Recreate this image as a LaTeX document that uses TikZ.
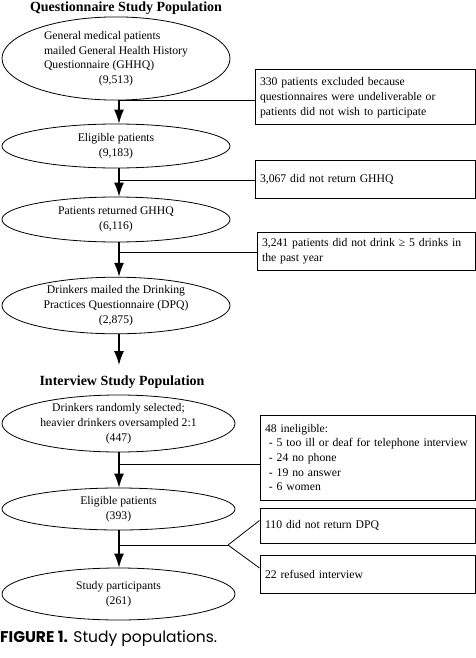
\documentclass[tikz,border=0pt]{standalone}
\usepackage{fontspec}
\setmainfont{Liberation Serif}
\newfontfamily\capfont{Poppins}
\usetikzlibrary{shapes.geometric,arrows.meta}
\begin{document}
\begin{tikzpicture}[x=1pt,y=-1pt,
  every node/.style={font=\fontsize{11.7}{14.7}\selectfont},
  ell/.style={draw,ellipse,line width=0.8pt,inner sep=0pt,align=center},
  boxn/.style={draw,rectangle,line width=1pt,inner xsep=5pt,inner ysep=0pt,align=left},
  head/.style={font=\fontsize{14}{16}\selectfont\bfseries},
  flow/.style={line width=1.4pt,-{Latex[length=14pt,width=10pt]}},
  link/.style={line width=0.8pt}]
\useasboundingbox (0,0) rectangle (476,658);
\node[head] (t1) at (126,8) {Questionnaire Study Population};
\node[ell,minimum width=228pt,minimum height=73pt] (e1) at (116,58.5)
  {\begin{tabular}{@{}l@{}}General medical patients\\mailed General Health History\\Questionnaire (GHHQ)\\\multicolumn{1}{@{}c@{}}{(9,513)}\end{tabular}};
\node[ell,minimum width=228pt,minimum height=44pt] (e2) at (116,146) {Eligible patients\\(9,183)};
\node[ell,minimum width=228pt,minimum height=45pt] (e3) at (116,219.5) {Patients returned GHHQ\\(6,116)};
\node[ell,minimum width=228pt,minimum height=55pt] (e4) at (116,305.5) {Drinkers mailed the Drinking\\Practices Questionnaire (DPQ)\\(2,875)};
\node[head] (t2) at (122,382) {Interview Study Population};
\node[ell,minimum width=233pt,minimum height=57pt] (e5) at (118.5,423.5) {Drinkers randomly selected;\\heavier drinkers oversampled 2:1\\(447)};
\node[ell,minimum width=233pt,minimum height=42pt] (e6) at (118.5,509) {Eligible patients\\(393)};
\node[ell,minimum width=233pt,minimum height=52pt] (e7) at (118.5,594) {Study participants\\(261)};

\node[boxn,minimum width=220pt,minimum height=55pt,text width=210pt] (b1) at (365,97.5)
  {330 patients excluded because\\questionnaires were undeliverable or\\patients did not wish to participate};
\node[boxn,minimum width=220pt,minimum height=38pt,text width=210pt] (b2) at (365,179) {3,067 did not return GHHQ};
\node[boxn,minimum width=218pt,minimum height=38pt,text width=208pt] (b3) at (366,251)
  {3,241 patients did not drink ≥ 5 drinks in\\the past year};
\node[boxn,minimum width=215pt,minimum height=85pt,text width=205pt] (b4) at (367.5,457.5)
  {48 ineligible:\\\ - 5 too ill or deaf for telephone interview\\\ - 24 no phone\\\ - 19 no answer\\\ - 6 women};
\node[boxn,minimum width=215pt,minimum height=35pt,text width=205pt] (b5) at (367.5,525.5) {110 did not return DPQ};
\node[boxn,minimum width=215pt,minimum height=38pt,text width=205pt] (b6) at (367.5,574) {22 refused interview};

\draw[flow] (e1.south -| 119,0) -- (e2.north -| 119,0);
\draw[flow] (e2.south -| 119,0) -- (e3.north -| 119,0);
\draw[flow] (e3.south -| 119,0) -- (e4.north -| 119,0);
\coordinate (a4) at (119,365);
\draw[flow] (e4.south -| 119,0) -- (a4);
\draw[flow] (e5.south -| 119,0) -- (e6.north -| 119,0);
\draw[flow] (e6.south -| 119,0) -- (e7.north -| 119,0);

\coordinate (j1) at (119,100);
\coordinate (j2) at (119,180);
\coordinate (j3) at (119,252);
\coordinate (j4) at (119,464);
\coordinate (j5) at (119,545);
\coordinate (k5) at (228,545);
\draw[link] (j1) -- (j1 -| b1.west);
\draw[link] (j2) -- (j2 -| b2.west);
\draw[link] (j3) -- (j3 -| b3.west);
\draw[link] (j4) -- (j4 -| b4.west);
\draw[link] (j5) -- (k5);
\draw[link] (k5) -- ([yshift=5pt]b5.west);
\draw[link] (k5) -- ([yshift=6pt]b6.west);

\node[anchor=base west,inner sep=0pt,font=\capfont\fontsize{15.5}{17}\selectfont] (cap) at (0,642)
  {\textbf{FIGURE 1.} Study populations.};
\end{tikzpicture}
\end{document}
